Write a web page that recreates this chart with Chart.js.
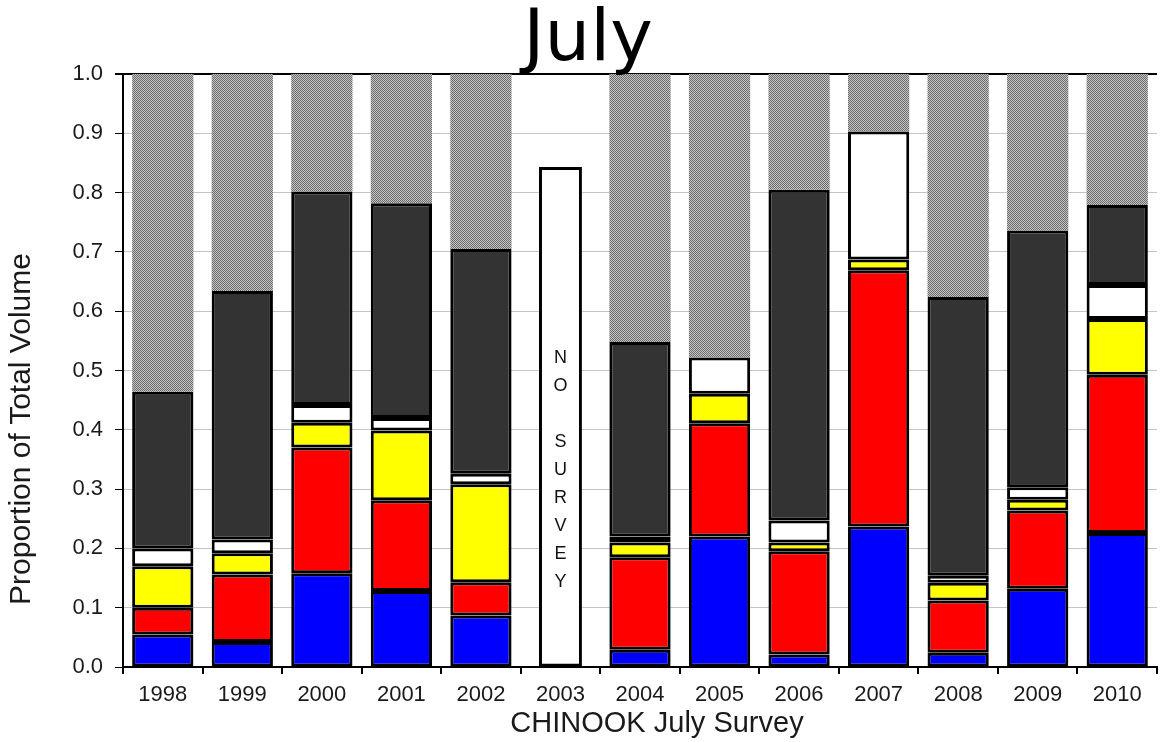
<!DOCTYPE html>
<html>
<head>
<meta charset="utf-8">
<title>July</title>
<script src="https://cdn.jsdelivr.net/npm/chart.js@4/dist/chart.umd.min.js"></script>
<style>
  html, body { margin: 0; padding: 0; background: #fff; }
  #wrap { width: 1162px; height: 742px; }
</style>
</head>
<body>
<div id="wrap"><canvas id="july" width="1162" height="742"></canvas></div>
<script>
const YEARS = ["1998", "1999", "2000", "2001", "2002", "2003", "2004", "2005", "2006", "2007", "2008", "2009", "2010"];
const Y_TICKS = [0, 0.1, 0.2, 0.3, 0.4, 0.5, 0.6, 0.7, 0.8, 0.9, 1.0];

// segment heights, bottom to top
const BLUE = [0.055, 0.042, 0.158, 0.128, 0.087, null, 0.029, 0.220, 0.021, 0.237, 0.024, 0.132, 0.226];
const RED = [0.045, 0.114, 0.212, 0.153, 0.056, null, 0.156, 0.191, 0.174, 0.432, 0.088, 0.132, 0.267];
const YELLOW = [0.070, 0.036, 0.042, 0.118, 0.165, null, 0.025, 0.050, 0.015, 0.018, 0.030, 0.018, 0.094];
const WHITE = [0.030, 0.023, 0.030, 0.021, 0.018, null, 0.010, 0.061, 0.037, 0.216, 0.012, 0.021, 0.057];
const DARK = [0.264, 0.419, 0.360, 0.362, 0.379, null, 0.328, null, 0.558, null, 0.470, 0.433, 0.135];
const HATCHED = [0.536, 0.366, 0.198, 0.218, 0.295, null, 0.452, 0.478, 0.195, 0.097, 0.376, 0.264, 0.221];
const NO_SURVEY = [null, null, null, null, null, 0.843, null, null, null, null, null, null, null];
const NO_SURVEY_TEXT = ["N", "O", "", "S", "U", "R", "V", "E", "Y"];

function makeHatch() {
  const c = document.createElement("canvas");
  c.width = 2;
  c.height = 2;
  const g = c.getContext("2d");
  g.fillStyle = "#c4c4c4";
  g.fillRect(0, 0, 2, 2);
  g.fillStyle = "#6c6c6c";
  g.fillRect(0, 0, 1, 1);
  g.fillRect(1, 1, 1, 1);
  return g.createPattern(c, "repeat");
}

function seg(label, data, color) {
  return {
    label: label,
    data: data,
    backgroundColor: color,
    borderColor: "#000",
    borderWidth: 3,
    borderSkipped: false,
    barPercentage: 0.77,
    categoryPercentage: 1,
  };
}

const textPlugin = {
  id: "texts",
  beforeDraw(chart) {
    const ctx = chart.ctx;
    ctx.save();
    ctx.fillStyle = "#fff";
    ctx.fillRect(0, 0, chart.width, chart.height);
    ctx.restore();
  },
  afterDraw(chart) {
    const ctx = chart.ctx;
    const area = chart.chartArea;
    const y = chart.scales.y;
    ctx.save();

    ctx.fillStyle = "#000";
    ctx.font = "72px 'DejaVu Sans'";
    ctx.textAlign = "center";
    ctx.textBaseline = "alphabetic";
    ctx.fillText("July", 588, 60);

    ctx.fillStyle = "#1a1a1a";
    ctx.font = "29px 'Liberation Sans'";
    ctx.textBaseline = "middle";
    ctx.fillText("CHINOOK July Survey", area.left + 534, 724);

    ctx.save();
    ctx.translate(22, 429);
    ctx.rotate(-Math.PI / 2);
    ctx.font = "30px 'Liberation Sans'";
    ctx.fillText("Proportion of Total Volume", 0, 0);
    ctx.restore();

    const bar = chart.getDatasetMeta(6).data[5];
    ctx.font = "18px 'Liberation Sans'";
    ctx.fillStyle = "#111";
    const top = y.getPixelForValue(0.521);
    NO_SURVEY_TEXT.forEach((ch, i) => {
      ctx.fillText(ch, bar.x, top + i * 28);
    });
    ctx.restore();
  },
};

new Chart(document.getElementById("july"), {
  type: "bar",
  data: {
    labels: YEARS,
    datasets: [
      seg("Blue", BLUE, "#0000ff"),
      seg("Red", RED, "#ff0000"),
      seg("Yellow", YELLOW, "#ffff00"),
      seg("White", WHITE, "#ffffff"),
      seg("Dark", DARK, "#333333"),
      Object.assign(seg("Hatched", HATCHED, makeHatch()), { borderWidth: 0 }),
      Object.assign(seg("No survey", NO_SURVEY, "#ffffff"), { barPercentage: 0.54 }),
    ],
  },
  options: {
    responsive: false,
    animation: false,
    layout: { padding: { top: 74, right: 5, bottom: 0, left: 0 } },
    plugins: {
      legend: { display: false },
      title: { display: false },
      tooltip: { enabled: false },
    },
    scales: {
      x: {
        stacked: true,
        afterFit(scale) {
          scale.height = 75;
        },
        grid: {
          offset: true,
          drawOnChartArea: false,
          color: "#000",
          tickLength: 7,
          lineWidth: 2,
        },
        border: { display: true, color: "#000", width: 2 },
        ticks: {
          color: "#1a1a1a",
          padding: 8,
          font: { family: "'Liberation Sans'", size: 22 },
        },
      },
      y: {
        stacked: true,
        min: 0,
        max: 1,
        afterFit(scale) {
          scale.width = 123;
        },
        afterBuildTicks(scale) {
          scale.ticks = Y_TICKS.map((v) => ({ value: v }));
        },
        grid: {
          color: (c) => (c.tick && c.tick.value === 1 ? "#000" : "#c4c4c4"),
          lineWidth: (c) => (c.tick && c.tick.value === 1 ? 2 : 1),
          tickColor: "#000",
          tickLength: 8,
        },
        border: { display: true, color: "#000", width: 2 },
        ticks: {
          color: "#1a1a1a",
          padding: 12,
          font: { family: "'Liberation Sans'", size: 22 },
          callback: (v) => Number(v).toFixed(1),
        },
      },
    },
  },
  plugins: [textPlugin],
});
</script>
</body>
</html>
